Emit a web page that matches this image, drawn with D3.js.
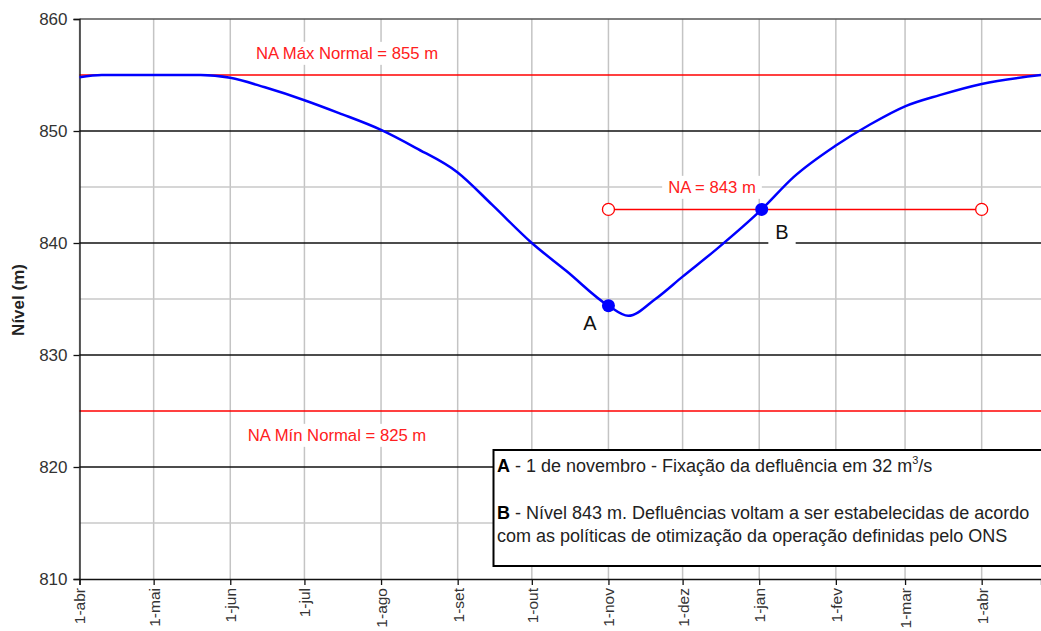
<!DOCTYPE html>
<html><head><meta charset="utf-8">
<script src="https://cdn.jsdelivr.net/npm/d3@7"></script>
<style>body{margin:0;background:#fff}svg{display:block;font-family:"Liberation Sans",Arial,sans-serif}</style>
</head><body>
<svg id="c" width="1041" height="631"></svg>
<script>
// ---- data ----
const dates = ["2006-04-01","2006-04-10","2006-05-01","2006-05-20","2006-06-01","2006-06-15","2006-07-01","2006-07-15","2006-08-01","2006-08-15","2006-09-01","2006-09-15","2006-10-01","2006-10-15","2006-11-01","2006-11-09","2006-11-20","2006-12-01","2006-12-15","2007-01-02","2007-01-15","2007-02-01","2007-02-15","2007-03-01","2007-03-15","2007-04-01","2007-04-25"];
const levels = [854.8,855.0,855.0,855.0,854.75,853.9,852.75,851.6,850.1,848.5,846.3,843.4,840.0,837.5,834.4,833.5,835.0,837.0,839.5,843.0,845.9,848.7,850.6,852.2,853.2,854.2,855.0];
const tickDates = ["2006-04-01","2006-05-01","2006-06-01","2006-07-01","2006-08-01","2006-09-01","2006-10-01","2006-11-01","2006-12-01","2007-01-01","2007-02-01","2007-03-01","2007-04-01"];
const tickLabels = ["1-abr","1-mai","1-jun","1-jul","1-ago","1-set","1-out","1-nov","1-dez","1-jan","1-fev","1-mar","1-abr"];
const yTicks = [810,820,830,840,850,860];
const yMinor = [815,825,835,845,855];
const naMax = 855, naMin = 825, naTarget = 843;
const targetStart = "2006-11-01", targetEnd = "2007-04-01";
const pointLabels = ["A","B"];
const pointDates = ["2006-11-01","2007-01-02"];
const pointLevels = [834.4,843.0];
const refLabels = ["NA Máx Normal = 855 m","NA Mín Normal = 825 m","NA = 843 m"];
const noteA = ["A"," - 1 de novembro - Fixação da defluência em 32 m","3","/s"];
const noteB = ["B"," - Nível 843 m. Defluências voltam a ser estabelecidas de acordo","com as políticas de otimização da operação definidas pelo ONS"];

// ---- scales ----
const P = d => new Date(d + "T00:00:00Z");
const L = 79.5, R = 1041, T = 19, B = 579;
const x = d3.scaleUtc().domain([P("2006-04-01"), P("2007-04-25")]).range([L, R]);
const y = d3.scaleLinear().domain([810, 860]).range([B, T]);
const svg = d3.select("#c");

// vertical grid
svg.append("g").selectAll("line").data(tickDates).join("line")
  .attr("x1", d => x(P(d))).attr("x2", d => x(P(d))).attr("y1", T).attr("y2", B)
  .attr("stroke", "#c4c4c4").attr("stroke-width", 1.5);
// minor horizontal grid
svg.append("g").selectAll("line").data(yMinor.filter(v => v !== naMax && v !== naMin)).join("line")
  .attr("x1", L).attr("x2", R).attr("y1", d => y(d)).attr("y2", d => y(d))
  .attr("stroke", "#c8c8c8").attr("stroke-width", 1.5);
// major horizontal grid
svg.append("g").selectAll("line").data(yTicks.filter(v => v > 810 && v < 860)).join("line")
  .attr("x1", L).attr("x2", R).attr("y1", d => y(d)).attr("y2", d => y(d))
  .attr("stroke", "#111").attr("stroke-width", 1.3);
// top border
svg.append("line").attr("x1", L).attr("x2", R).attr("y1", y(860)).attr("y2", y(860))
  .attr("stroke", "#555").attr("stroke-width", 1.6);
// NA lines
[naMax, naMin].forEach(v => svg.append("line").attr("x1", L).attr("x2", R)
  .attr("y1", y(v)).attr("y2", y(v)).attr("stroke", "#ff0000").attr("stroke-width", 1.5));

// axes
const yAxis = svg.append("g").attr("transform", `translate(${L},0)`)
  .call(d3.axisLeft(y).tickValues(yTicks).tickSize(6).tickPadding(6).tickFormat(d3.format("d")));
yAxis.select(".domain").attr("stroke", "#111").attr("stroke-width", 1.3);
yAxis.selectAll(".tick line").attr("stroke", "#111").attr("stroke-width", 1.3);
yAxis.selectAll("text").attr("font-size", 17).attr("fill", "#333").attr("font-family", "Liberation Sans");

const xAxis = svg.append("g").attr("transform", `translate(0,${B})`)
  .call(d3.axisBottom(x).tickValues(tickDates.map(P)).tickSize(6)
    .tickFormat((d, i) => tickLabels[i]));
xAxis.select(".domain").attr("stroke", "#111").attr("stroke-width", 1.3);
xAxis.selectAll(".tick line").attr("stroke", "#111").attr("stroke-width", 1.3);
xAxis.selectAll("text").attr("font-size", 15.5).attr("fill", "#333").attr("font-family", "Liberation Sans")
  .attr("text-anchor", "end").attr("transform", "rotate(-90)")
  .attr("x", -9).attr("y", 0).attr("dy", "0.35em");

// y title
svg.append("text").attr("transform", "translate(24,300) rotate(-90)")
  .attr("text-anchor", "middle").attr("font-size", 17).attr("font-weight", "bold")
  .attr("fill", "#222").text("Nível (m)");

// labels with white background
function bgLabel(txt, cx, cy, size, color, padX) {
  const g = svg.append("g");
  const t = g.append("text").attr("x", cx).attr("y", cy).attr("text-anchor", "middle")
    .attr("dy", "0.35em").attr("font-size", size).attr("fill", color).text(txt);
  const bb = t.node().getBBox();
  g.insert("rect", "text").attr("x", bb.x - padX).attr("y", bb.y - 2)
    .attr("width", bb.width + 2 * padX).attr("height", bb.height + 4).attr("fill", "#fff");
}
bgLabel(refLabels[0], 347, 53, 16.7, "#ff2020", 6);
bgLabel(refLabels[1], 337, 435, 16.7, "#ff2020", 6);
bgLabel(refLabels[2], 712, 187, 16.7, "#ff2020", 6);
bgLabel(pointLabels[1], 782, 232, 20, "#111", 7);

// target line 843
svg.append("line").attr("x1", x(P(targetStart))).attr("x2", x(P(targetEnd)))
  .attr("y1", y(naTarget)).attr("y2", y(naTarget)).attr("stroke", "#ff0000").attr("stroke-width", 1.5);

// blue curve
const data = dates.map((d, i) => ({ d: P(d), v: levels[i] }));
svg.append("path").datum(data)
  .attr("d", d3.line().x(d => x(d.d)).y(d => y(d.v)).curve(d3.curveMonotoneX))
  .attr("fill", "none").attr("stroke", "#0000ff").attr("stroke-width", 2.5);

// target circles
[targetStart, targetEnd].forEach(d => svg.append("circle")
  .attr("cx", x(P(d))).attr("cy", y(naTarget)).attr("r", 6)
  .attr("fill", "#fff").attr("stroke", "#ff0000").attr("stroke-width", 1.3));

// points
svg.append("g").selectAll("circle").data(pointDates).join("circle")
  .attr("cx", d => x(P(d))).attr("cy", (d, i) => y(pointLevels[i])).attr("r", 6.5)
  .attr("fill", "#0000ff");
svg.append("text").attr("x", 590).attr("y", 323).attr("dy", "0.35em").attr("text-anchor", "middle")
  .attr("font-size", 20).attr("fill", "#111").text(pointLabels[0]);

// annotation box
svg.append("rect").attr("x", 493.5).attr("y", 450).attr("width", 560).attr("height", 116)
  .attr("fill", "#fff").attr("stroke", "#000").attr("stroke-width", 2);
const fs = 18;
const tA = svg.append("text").attr("x", 497).attr("y", 472).attr("font-size", fs).attr("fill", "#222");
tA.append("tspan").attr("font-weight", "bold").attr("fill", "#000").text(noteA[0]);
tA.append("tspan").text(noteA[1]);
tA.append("tspan").attr("font-size", 11).attr("dy", -8).text(noteA[2]);
tA.append("tspan").attr("dy", 8).text(noteA[3]);
const tB = svg.append("text").attr("x", 497).attr("y", 519).attr("font-size", fs).attr("fill", "#222");
tB.append("tspan").attr("font-weight", "bold").attr("fill", "#000").text(noteB[0]);
tB.append("tspan").text(noteB[1]);
svg.append("text").attr("x", 497).attr("y", 542).attr("font-size", fs).attr("fill", "#222").text(noteB[2]);
</script>
</body></html>
